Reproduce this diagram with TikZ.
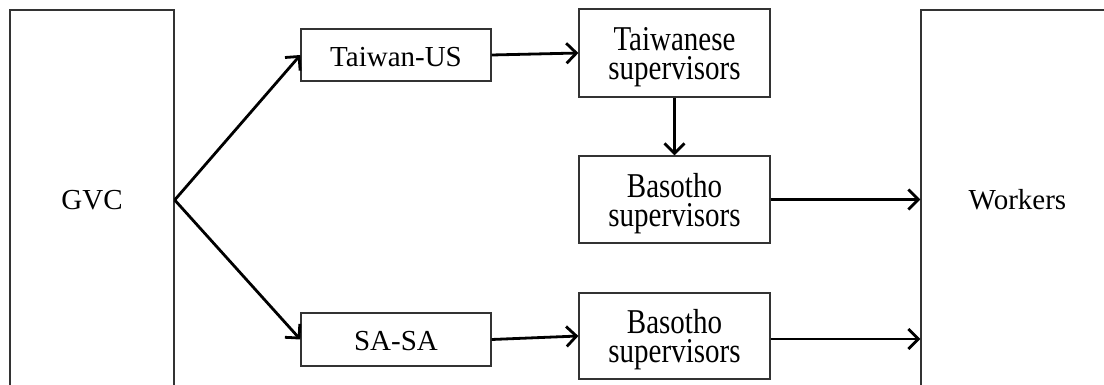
\documentclass[tikz,border=0pt]{standalone}
\usepackage{fontspec}
\setmainfont{Liberation Serif}
\usetikzlibrary{arrows.meta}
\newcommand\twolines[2]{\raisebox{0pt}[\dimexpr\height+8pt\relax][\depth]{\scalebox{1}[1.2]{\vbox{\fontsize{29}{24}\selectfont\halign{\hfil##\hfil\cr#1\cr#2\cr}}}}}
\begin{document}
\begin{tikzpicture}[x=1pt,y=-1pt,
  txt/.style={font=\fontsize{29}{30}\selectfont},
  box/.style={txt, draw=black!80, line width=1.2pt, fill=white, minimum width=191pt, inner sep=0pt, align=center},
  bigbox/.style={txt, draw=black!80, line width=1.4pt, minimum height=380pt, inner sep=0pt},
  link/.style={line width=2.8pt, -{Straight Barb[length=10pt,width=20pt]}}]
\useasboundingbox (0,0) rectangle (1104,385);
\clip (0,0) rectangle (1104,385);
\node[bigbox, minimum width=164pt] (gvc) at (92,200) {GVC};
\node[bigbox, minimum width=193pt] (wk) at (1017.5,200) {Workers};
\node[box, minimum width=190pt, minimum height=52pt] (tus) at (396,55) {\raisebox{0pt}[\dimexpr\height+4pt\relax][\depth]{Taiwan-US}};
\node[box, minimum width=190pt, minimum height=53pt] (sasa) at (396,339.5) {\raisebox{0pt}[\dimexpr\height+4pt\relax][\depth]{SA-SA}};
\node[box, minimum height=88pt] (tsup) at (674.5,53) {\twolines{Taiwanese}{supervisors}};
\node[box, minimum height=87pt] (bas1) at (674.5,199.5) {\twolines{Basotho}{supervisors}};
\node[box, minimum height=86pt] (bas2) at (674.5,336) {\twolines{Basotho}{supervisors}};
\draw[link] (gvc.east) -- (tus.west);
\draw[link] (gvc.east) -- (sasa.west);
\draw[link] (tus.east) -- (tsup.west);
\draw[link] (tsup.south) -- (bas1.north);
\draw[link] (bas1.east) -- (bas1.east -| wk.west);
\draw[link] ([yshift=-3pt]bas2.east) -- ([yshift=-3pt]bas2.east -| wk.west);
\draw[link] (sasa.east) -- (bas2.west);
\end{tikzpicture}
\end{document}
